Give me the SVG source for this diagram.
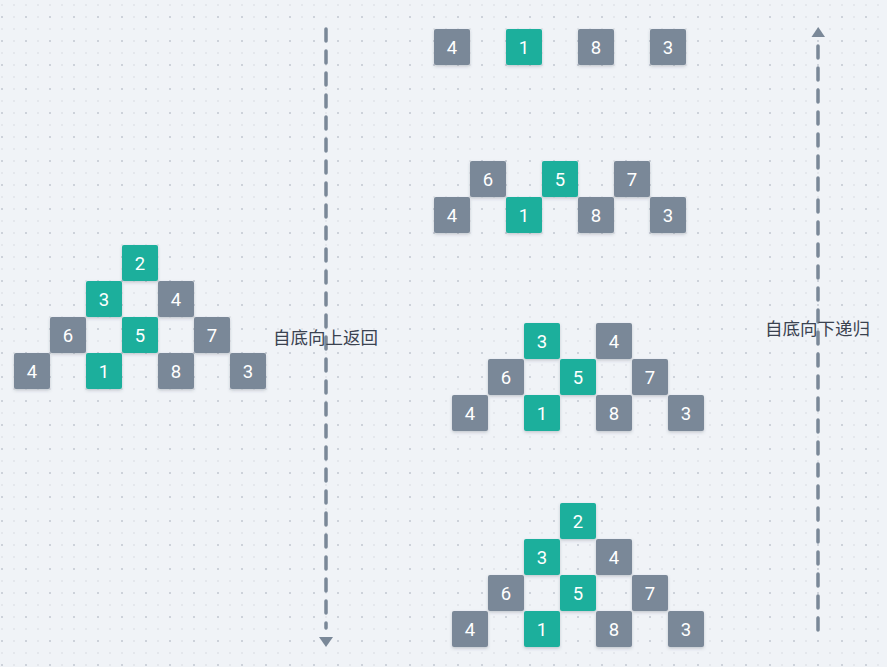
<svg xmlns="http://www.w3.org/2000/svg" width="887" height="667" viewBox="0 0 887 667">
<defs>
<pattern id="dotsA" x="1" y="4" width="12" height="12" patternUnits="userSpaceOnUse"><rect x="0" y="0" width="2" height="2" fill="#e4e7ec"/></pattern>
<pattern id="dotsB" x="1" y="16" width="24" height="24" patternUnits="userSpaceOnUse"><rect x="0" y="0" width="2" height="2" fill="#cdd2da"/></pattern>
<filter id="sh" x="-20%" y="-20%" width="140%" height="150%"><feDropShadow dx="0" dy="1.5" stdDeviation="1.5" flood-color="#3a4656" flood-opacity="0.25"/></filter>
<style>
.g{fill:#7a8898}
.t{fill:#1aaf9c}
.n rect{rx:2px;filter:url(#sh)}
.n text{font-family:Roboto,"DejaVu Sans",sans-serif;font-size:18.5px;fill:#ffffff;text-anchor:middle}
.lbl{font-family:"Noto Sans CJK SC","Noto Sans",sans-serif;font-size:17.5px;fill:#3a4250}
.ln{stroke:#7a8898;stroke-width:3.5;stroke-linecap:round;stroke-dasharray:12 10;fill:none}
</style>
</defs>
<rect width="887" height="667" fill="#f0f3f7"/>
<rect width="887" height="667" fill="url(#dotsA)"/>
<rect width="887" height="667" fill="url(#dotsB)"/>

<g id="connectors">
<path class="ln" d="M326,29 L326,628"/>
<path d="M319,637 L333,637 L326,647 Z" fill="#7a8898"/>
<path class="ln" d="M818,630 L818,39"/>
<path d="M811.5,37 L825,37 L818.2,27 Z" fill="#7a8898"/>
</g>

<g id="label-up"><text class="lbl" x="273" y="344">自底向上返回</text></g>
<g id="label-down"><text class="lbl" x="765" y="335">自底向下递归</text></g>

<g id="left-tree" class="n">
<g id="L2"><rect class="t" x="122" y="245" width="36" height="36"/><text x="140" y="270">2</text></g>
<g id="L3"><rect class="t" x="86" y="281" width="36" height="36"/><text x="104" y="306">3</text></g>
<g id="L4a"><rect class="g" x="158" y="281" width="36" height="36"/><text x="176" y="306">4</text></g>
<g id="L6"><rect class="g" x="50" y="317" width="36" height="36"/><text x="68" y="342">6</text></g>
<g id="L5"><rect class="t" x="122" y="317" width="36" height="36"/><text x="140" y="342">5</text></g>
<g id="L7"><rect class="g" x="194" y="317" width="36" height="36"/><text x="212" y="342">7</text></g>
<g id="L4b"><rect class="g" x="14" y="353" width="36" height="36"/><text x="32" y="378">4</text></g>
<g id="L1"><rect class="t" x="86" y="353" width="36" height="36"/><text x="104" y="378">1</text></g>
<g id="L8"><rect class="g" x="158" y="353" width="36" height="36"/><text x="176" y="378">8</text></g>
<g id="L3b"><rect class="g" x="230" y="353" width="36" height="36"/><text x="248" y="378">3</text></g>
</g>

<g id="step1" class="n">
<g id="A4"><rect class="g" x="434" y="29" width="36" height="36"/><text x="452" y="54">4</text></g>
<g id="A1"><rect class="t" x="506" y="29" width="36" height="36"/><text x="524" y="54">1</text></g>
<g id="A8"><rect class="g" x="578" y="29" width="36" height="36"/><text x="596" y="54">8</text></g>
<g id="A3"><rect class="g" x="650" y="29" width="36" height="36"/><text x="668" y="54">3</text></g>
</g>

<g id="step2" class="n">
<g id="B6"><rect class="g" x="470" y="161" width="36" height="36"/><text x="488" y="186">6</text></g>
<g id="B5"><rect class="t" x="542" y="161" width="36" height="36"/><text x="560" y="186">5</text></g>
<g id="B7"><rect class="g" x="614" y="161" width="36" height="36"/><text x="632" y="186">7</text></g>
<g id="B4"><rect class="g" x="434" y="197" width="36" height="36"/><text x="452" y="222">4</text></g>
<g id="B1"><rect class="t" x="506" y="197" width="36" height="36"/><text x="524" y="222">1</text></g>
<g id="B8"><rect class="g" x="578" y="197" width="36" height="36"/><text x="596" y="222">8</text></g>
<g id="B3"><rect class="g" x="650" y="197" width="36" height="36"/><text x="668" y="222">3</text></g>
</g>

<g id="step3" class="n">
<g id="C3"><rect class="t" x="524" y="323" width="36" height="36"/><text x="542" y="348">3</text></g>
<g id="C4a"><rect class="g" x="596" y="323" width="36" height="36"/><text x="614" y="348">4</text></g>
<g id="C6"><rect class="g" x="488" y="359" width="36" height="36"/><text x="506" y="384">6</text></g>
<g id="C5"><rect class="t" x="560" y="359" width="36" height="36"/><text x="578" y="384">5</text></g>
<g id="C7"><rect class="g" x="632" y="359" width="36" height="36"/><text x="650" y="384">7</text></g>
<g id="C4b"><rect class="g" x="452" y="395" width="36" height="36"/><text x="470" y="420">4</text></g>
<g id="C1"><rect class="t" x="524" y="395" width="36" height="36"/><text x="542" y="420">1</text></g>
<g id="C8"><rect class="g" x="596" y="395" width="36" height="36"/><text x="614" y="420">8</text></g>
<g id="C3b"><rect class="g" x="668" y="395" width="36" height="36"/><text x="686" y="420">3</text></g>
</g>

<g id="step4" class="n">
<g id="D2"><rect class="t" x="560" y="503" width="36" height="36"/><text x="578" y="528">2</text></g>
<g id="D3"><rect class="t" x="524" y="539" width="36" height="36"/><text x="542" y="564">3</text></g>
<g id="D4a"><rect class="g" x="596" y="539" width="36" height="36"/><text x="614" y="564">4</text></g>
<g id="D6"><rect class="g" x="488" y="575" width="36" height="36"/><text x="506" y="600">6</text></g>
<g id="D5"><rect class="t" x="560" y="575" width="36" height="36"/><text x="578" y="600">5</text></g>
<g id="D7"><rect class="g" x="632" y="575" width="36" height="36"/><text x="650" y="600">7</text></g>
<g id="D4b"><rect class="g" x="452" y="611" width="36" height="36"/><text x="470" y="636">4</text></g>
<g id="D1"><rect class="t" x="524" y="611" width="36" height="36"/><text x="542" y="636">1</text></g>
<g id="D8"><rect class="g" x="596" y="611" width="36" height="36"/><text x="614" y="636">8</text></g>
<g id="D3b"><rect class="g" x="668" y="611" width="36" height="36"/><text x="686" y="636">3</text></g>
</g>
</svg>
